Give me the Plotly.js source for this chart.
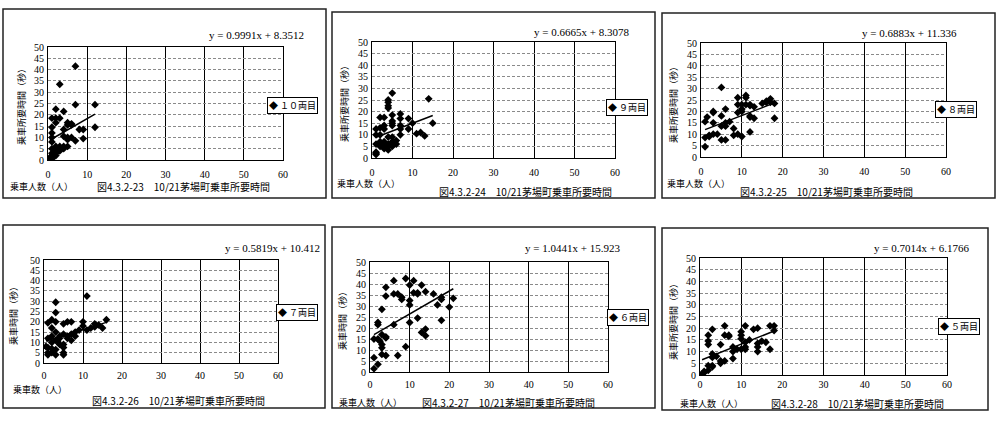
<!DOCTYPE html>
<html>
<head>
<meta charset="utf-8">
<script src="https://cdn.plot.ly/plotly-3.0.1.min.js"></script>
<style>
  body { margin: 0; background: #fff; }
  #chart { width: 1000px; height: 423px; }
</style>
</head>
<body>
<div id="chart"></div>
<script>
// Boarding count (x) and boarding time in seconds (y), one pair of arrays per car
let car10X = [7, 3, 7, 12, 2, 4, 1, 2, 3, 2, 5, 5, 6, 6, 8, 9, 12, 4, 1, 1, 1, 4, 5, 5, 6, 9, 7, 1, 1, 2, 2, 3, 3, 2, 1, 1, 0.5, 1, 2, 3, 4, 5, 4, 2, 1];
let car10Y = [41.5, 33.5, 24.5, 24.5, 22.5, 21.5, 18.5, 18.5, 18.5, 16.5, 15.5, 16.5, 15.5, 16, 13.5, 13.5, 14.5, 13.5, 14.5, 12, 10, 10.5, 10, 9, 10, 9.5, 8.5, 8, 5, 5, 6, 6, 5, 4, 3, 2, 1, 1, 3, 4, 6, 6, 5, 2, 0.5];

let car9X = [5, 4, 4, 4, 4, 14, 2, 3, 5, 5, 5, 7, 7, 9, 15, 10, 1, 2, 3, 3, 5, 7, 7, 9, 11, 12, 13, 7, 1, 2, 1, 2, 3, 4, 4, 5, 5, 6, 3, 4, 5, 6, 2, 3, 1, 1, 1, 2, 4, 5];
let car9Y = [28, 25, 24, 22.5, 21.5, 25.5, 17.5, 17.5, 18.5, 16, 15, 19, 17, 17, 15, 15, 12.5, 13, 12.5, 14, 14, 14, 12.5, 12.5, 10.5, 11, 9.5, 10, 10, 10, 6, 6, 5.5, 5, 6, 5, 6, 6, 4, 3.5, 7, 7.5, 5, 7, 2, 1.5, 2.5, 7, 9, 9];

let car8X = [5, 1, 9, 11, 11, 17, 18, 16, 15, 12, 13, 3, 3, 6, 1.5, 1, 5, 3, 5, 6, 6, 7, 8, 9, 10, 9, 10, 10, 12, 12, 13, 12, 17, 18, 12, 1, 2, 2, 4, 3, 5, 6, 8, 9, 10, 16, 11];
let car8Y = [30.5, 4.5, 26, 27, 26, 25.5, 23.5, 24, 23.5, 23, 22, 20, 19.5, 21, 17.5, 15.5, 18, 15, 13.5, 13.5, 15, 15.5, 12.5, 19.5, 21, 23, 23, 20, 22.5, 18, 17, 17.5, 24, 17, 11, 8.5, 9, 9.5, 10, 10, 7.5, 7.5, 9.5, 10, 9, 24.5, 23];

let car7X = [11, 3, 3, 2, 1, 3, 6, 7, 5, 2, 3, 2, 10, 10, 13, 15, 16, 13, 14, 5, 6, 7, 8, 9, 4, 3, 3.5, 4, 5, 7, 1, 2, 1, 3, 5, 5, 5, 3, 2, 1, 2, 0.5, 1, 4, 6, 8, 11, 12];
let car7Y = [32.5, 29.5, 24.5, 21, 19.5, 20, 20, 20, 19, 17, 15, 13, 20, 18, 19, 17, 21, 17.5, 18.5, 14, 13, 14, 15, 16, 13, 11, 10.5, 9, 9, 11, 5, 7, 4, 6.5, 7.5, 5, 4, 4, 5, 12, 10, 8, 7.5, 12, 12, 13, 16, 17];

let car6X = [6, 9, 11, 10, 13, 4, 6, 7, 8, 8, 11, 12, 12, 10, 14, 16, 18, 18, 17, 21, 20, 4, 3, 10, 10, 12, 18, 6, 2, 2, 13, 14, 14, 1, 2, 2.5, 3, 4, 4, 3, 3, 9, 4, 3, 7, 1, 2, 1];
let car6Y = [41.5, 42.5, 41.5, 39.5, 39.5, 38.5, 35.5, 35.5, 34, 33, 36, 36, 35.5, 32.5, 36.5, 35.5, 34, 33, 30.5, 33.5, 29.5, 34.5, 28.5, 30.5, 22.5, 24.5, 23.5, 21.5, 22.5, 21.5, 18, 16.5, 19.5, 15, 15, 14, 17, 16, 15.5, 12.5, 11, 11.5, 7.5, 8, 7.5, 6.5, 3.5, 1.5];

let car5X = [6, 11, 2, 3, 6, 7, 13, 14, 17, 18, 18, 10, 10, 10, 2, 2, 5, 8, 15, 16, 17, 14, 14, 14, 11, 11, 11, 10, 9, 8, 4, 5, 5, 6, 8, 3, 3, 2, 3, 3, 1, 1, 2, 0.5, 12, 7];
let car5Y = [21, 21, 17, 19.5, 17, 16.5, 19.5, 20, 21, 21, 19, 17, 18.5, 15.5, 14.5, 13, 13, 12, 14.5, 14, 11, 13.5, 12, 10, 14, 12, 11, 11, 11, 10, 8, 6, 5, 6, 7, 9, 7.5, 4, 4, 3.5, 1, 1.5, 2, 0.5, 15, 17];

let carNames = ["１０両目", "９両目", "８両目", "７両目", "６両目", "５両目"];
let slopes = [0.9991, 0.6665, 0.6883, 0.5819, 1.0441, 0.7014];
let intercepts = [8.3512, 8.3078, 11.336, 10.412, 15.923, 6.1766];
let equations = ["y = 0.9991x + 8.3512", "y = 0.6665x + 8.3078", "y = 0.6883x + 11.336",
                 "y = 0.5819x + 10.412", "y = 1.0441x + 15.923", "y = 0.7014x + 6.1766"];
let yTitles = ["乗車所要時間（秒）", "乗車所要時間（秒）", "乗車所要時間（秒）",
               "乗車時間（秒）", "乗車時間（秒）", "乗車所要時間（秒）"];
let xTitles = ["乗車人数（人）", "乗車人数（人）", "乗車人数（人）",
               "乗車数（人）", "乗車人数（人）", "乗車人数（人）"];
let captions = ["図4.3.2-23　10/21茅場町乗車所要時間", "図4.3.2-24　10/21茅場町乗車所要時間",
                "図4.3.2-25　10/21茅場町乗車所要時間", "図4.3.2-26　10/21茅場町乗車所要時間",
                "図4.3.2-27　10/21茅場町乗車所要時間", "図4.3.2-28　10/21茅場町乗車所要時間"];
let xTicks = [0, 10, 20, 30, 40, 50, 60];
let yTicks = [0, 5, 10, 15, 20, 25, 30, 35, 40, 45, 50];

let allX = [car10X, car9X, car8X, car7X, car6X, car5X];
let allY = [car10Y, car9Y, car8Y, car7Y, car6Y, car5Y];

// Where each panel sits on the page, in pixels
let W = 1000, H = 423;
let panels = [
  {plot: [48, 283, 47, 160], frame: [3, 326, 9, 198], eq: [207, 35], leg: [267, 106], yt: [21, 105], xt: [41, 186], cap: [183, 186], stand: 5},
  {plot: [372, 615, 42, 158], frame: [332, 655, 12, 198], eq: [532, 32], leg: [606, 107], yt: [344, 102], xt: [368, 184], cap: [525, 191], stand: 5},
  {plot: [701, 946, 43, 157], frame: [662, 995, 13, 198], eq: [860, 33], leg: [935, 109], yt: [673, 103], xt: [698, 184], cap: [826, 191], stand: 5},
  {plot: [44, 278, 260, 363], frame: [3, 325, 225, 408], eq: [223, 248], leg: [276, 312], yt: [13, 314], xt: [40, 389], cap: [178, 400], stand: 3},
  {plot: [370, 608, 262, 372], frame: [332, 655, 227, 408], eq: [523, 248], leg: [607, 317], yt: [342, 319], xt: [370, 402], cap: [508, 402], stand: 3},
  {plot: [700, 947, 258, 375], frame: [662, 988, 228, 410], eq: [872, 248], leg: [938, 326], yt: [673, 320], xt: [711, 403], cap: [857, 403], stand: 0}
];

let serif = "Liberation Serif, Times New Roman, serif";
let cjk = "Noto Sans CJK JP, sans-serif";

let data = [];
let layout = {
  width: W, height: H,
  margin: {l: 0, r: 0, t: 0, b: 0},
  paper_bgcolor: "white",
  plot_bgcolor: "white",
  showlegend: false,
  font: {family: serif, size: 11, color: "black"},
  annotations: [],
  shapes: []
};

function px(v) { return v / W; }
function py(v) { return 1 - v / H; }

for (let i = 0; i < panels.length; i++) {
  let p = panels[i];
  let n = i === 0 ? "" : String(i + 1);

  // scatter points
  data.push({
    x: allX[i], y: allY[i],
    type: "scatter", mode: "markers",
    name: carNames[i],
    xaxis: "x" + n, yaxis: "y" + n,
    marker: {symbol: "diamond", size: 6, color: "black"}
  });

  // linear trend line over the data range
  let xMin = Math.min(...allX[i]);
  let xMax = Math.max(...allX[i]);
  data.push({
    x: [xMin, xMax],
    y: [slopes[i] * xMin + intercepts[i], slopes[i] * xMax + intercepts[i]],
    type: "scatter", mode: "lines",
    xaxis: "x" + n, yaxis: "y" + n,
    hoverinfo: "skip",
    line: {color: "black", width: 1.5}
  });

  layout["xaxis" + n] = {
    domain: [px(p.plot[0]), px(p.plot[1])],
    anchor: "y" + n,
    range: [0, 60], tickvals: xTicks, ticks: "",
    showgrid: true, gridcolor: "black", gridwidth: 1,
    zeroline: false, showline: true, mirror: true, linecolor: "black", linewidth: 1,
    ticklabelstandoff: p.stand,
    tickfont: {family: serif, size: 10, color: "black"}
  };
  layout["yaxis" + n] = {
    domain: [py(p.plot[3]), py(p.plot[2])],
    anchor: "x" + n,
    range: [0, 50], tickvals: yTicks, ticks: "",
    showgrid: true, gridcolor: "#8a8a8a", gridwidth: 1, griddash: "3px,2px",
    zeroline: false, showline: true, mirror: true, linecolor: "black", linewidth: 1,
    ticklabelstandoff: 1,
    tickfont: {family: serif, size: 10, color: "black"}
  };

  // outer frame of each chart
  layout.shapes.push({
    type: "rect", xref: "paper", yref: "paper",
    x0: px(p.frame[0]), x1: px(p.frame[1]), y0: py(p.frame[3]), y1: py(p.frame[2]),
    line: {color: "#222", width: 1.5}
  });

  layout.annotations.push(
    // legend box
    {text: "◆ " + carNames[i], xref: "paper", yref: "paper", x: px(p.leg[0]), y: py(p.leg[1]),
     xanchor: "left", yanchor: "middle", showarrow: false,
     bgcolor: "white", bordercolor: "black", borderwidth: 1, borderpad: 1,
     font: {family: cjk, size: 9, color: "black"}},
    {text: equations[i], xref: "paper", yref: "paper", x: px(p.eq[0]), y: py(p.eq[1]),
     xanchor: "left", yanchor: "middle", showarrow: false,
     font: {family: serif, size: 11, color: "black"}},
    {text: yTitles[i], xref: "paper", yref: "paper", x: px(p.yt[0]), y: py(p.yt[1]),
     xanchor: "center", yanchor: "middle", textangle: -90, showarrow: false,
     font: {family: cjk, size: 9, color: "black"}},
    {text: xTitles[i], xref: "paper", yref: "paper", x: px(p.xt[0]), y: py(p.xt[1]),
     xanchor: "center", yanchor: "middle", showarrow: false,
     font: {family: cjk, size: 9, color: "black"}},
    {text: captions[i], xref: "paper", yref: "paper", x: px(p.cap[0]), y: py(p.cap[1]),
     xanchor: "center", yanchor: "middle", showarrow: false,
     font: {family: cjk, size: 10, color: "black"}}
  );
}

Plotly.newPlot("chart", data, layout, {staticPlot: true});
</script>
</body>
</html>
